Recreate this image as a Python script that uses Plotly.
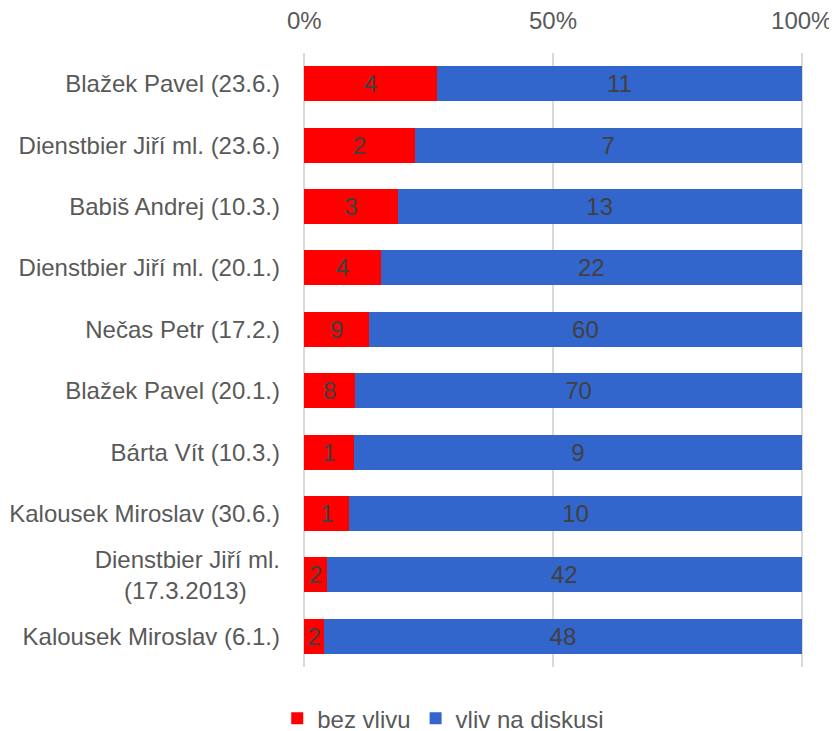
import plotly.graph_objects as go

categories = [
    "Blažek Pavel (23.6.)",
    "Dienstbier Jiří ml. (23.6.)",
    "Babiš Andrej (10.3.)",
    "Dienstbier Jiří ml. (20.1.)",
    "Nečas Petr (17.2.)",
    "Blažek Pavel (20.1.)",
    "Bárta Vít (10.3.)",
    "Kalousek Miroslav (30.6.)",
    "Dienstbier Jiří ml.<br>(17.3.2013)" + "\u00a0" * 5,
    "Kalousek Miroslav (6.1.)",
]
bez_vlivu = [4, 2, 3, 4, 9, 8, 1, 1, 2, 2]
vliv_na_diskusi = [11, 7, 13, 22, 60, 70, 9, 10, 42, 48]
tick_vals = [0, 50, 100]
tick_text = ["0%", "50%", "100%"]

FONT = "Liberation Sans, Arial, sans-serif"

fig = go.Figure()
for name, vals, color in [("bez vlivu", bez_vlivu, "#FF0000"),
                          ("vliv na diskusi", vliv_na_diskusi, "#3366CC")]:
    fig.add_trace(go.Bar(
        y=categories, x=vals, name=name, orientation="h",
        marker=dict(color=color, line=dict(width=0)),
        text=[str(v) for v in vals], textposition="inside",
        insidetextanchor="middle", constraintext="none",
        textfont=dict(color="#404040", size=24, family=FONT),
        hoverinfo="skip",
    ))

fig.update_layout(
    barmode="stack", barnorm="percent", bargap=0.43,
    width=837, height=731,
    margin=dict(l=295, r=42, t=45, b=72, autoexpand=False),
    plot_bgcolor="white", paper_bgcolor="white",
    font=dict(family=FONT, size=24, color="#595959"),
    xaxis=dict(side="top", range=[-0.25, 100.25], tickvals=tick_vals, ticktext=tick_text,
               showgrid=True, gridcolor="#d9d9d9", gridwidth=2, zeroline=False,
               showline=False, ticks="", ticklabelstandoff=18, automargin=False,
               tickfont=dict(size=24, color="#595959")),
    yaxis=dict(autorange="reversed", showgrid=False, zeroline=False, showline=False,
               ticks="", ticklabelstandoff=22, automargin=False,
               tickfont=dict(size=24, color="#595959")),
    legend=dict(orientation="h", x=0.52, xref="container", xanchor="center",
                y=0.028, yref="container", yanchor="middle",
                font=dict(size=24, color="#595959"), itemwidth=30,
                traceorder="normal"),
    showlegend=True,
)

fig.write_html("out.html")
